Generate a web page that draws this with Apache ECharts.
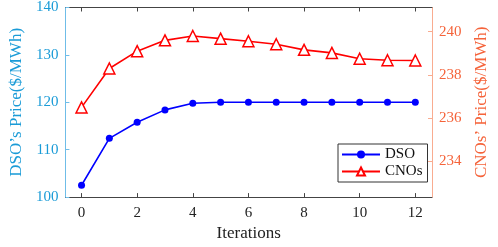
<!DOCTYPE html>
<html>
<head>
<meta charset="utf-8">
<script src="https://cdn.jsdelivr.net/npm/echarts@6/dist/echarts.min.js"></script>
<style>
html, body { margin: 0; padding: 0; background: #fff; }
#chart1 { width: 498px; height: 247px; }
</style>
</head>
<body>
<div id="chart1"></div>
<script>
var iterations = [0, 1, 2, 3, 4, 5, 6, 7, 8, 9, 10, 11, 12];
var dsoPrice = [102.5, 112.4, 115.8, 118.4, 119.8, 120, 120, 120, 120, 120, 120, 120, 120];
var cnoPrice = [236.5, 238.3, 239.1, 239.6, 239.8, 239.68, 239.56, 239.42, 239.16, 239.02, 238.75, 238.68, 238.67];
var xTicks = [0, 2, 4, 6, 8, 10, 12];
var rightTicks = [234, 236, 238, 240];

var font = 'Liberation Serif';
var leftColor = '#1a9bd7';
var rightColor = '#f5633a';

var dom = document.getElementById('chart1');
var myChart = echarts.init(dom);

function pairs(ys) {
    return iterations.map(function (x, i) { return [x, ys[i]]; });
}

myChart.setOption({
    animation: false,
    grid: { left: 52, right: 56, top: 6, bottom: 44 },
    legend: {
        orient: 'vertical',
        left: 338,
        top: 144,
        itemWidth: 38,
        itemHeight: 10,
        itemGap: 2,
        padding: [3, 5, 3, 3],
        borderColor: '#333',
        borderWidth: 1,
        backgroundColor: '#fff',
        textStyle: { fontFamily: font, fontSize: 15, color: '#111' },
        data: ['DSO', 'CNOs']
    },
    xAxis: [{
        type: 'value',
        min: -0.58,
        max: 12.6,
        name: 'Iterations',
        nameLocation: 'middle',
        nameGap: 26,
        nameTextStyle: { fontFamily: font, fontSize: 17, color: '#222' },
        axisLine: { onZero: false, lineStyle: { color: '#444', width: 1 } },
        axisTick: { inside: true, length: 4, customValues: xTicks, lineStyle: { color: '#444' } },
        axisLabel: { fontFamily: font, fontSize: 15, color: '#222', margin: 8, customValues: xTicks },
        splitLine: { show: false }
    }, {
        type: 'value',
        position: 'top',
        min: -0.58,
        max: 12.6,
        axisLine: { show: true, onZero: false, lineStyle: { color: '#444', width: 1 } },
        axisTick: { inside: true, length: 4, customValues: xTicks, lineStyle: { color: '#444' } },
        axisLabel: { show: false },
        splitLine: { show: false }
    }],
    yAxis: [{
        type: 'value',
        min: 100,
        max: 140,
        interval: 10,
        position: 'left',
        name: "DSO\u2019s Price($/MWh)",
        nameLocation: 'middle',
        nameGap: 38,
        nameTextStyle: { fontFamily: font, fontSize: 17, color: leftColor },
        axisLine: { show: true, onZero: false, lineStyle: { color: '#6fbde8', width: 1 } },
        axisTick: { inside: true, length: 4, lineStyle: { color: '#6fbde8' } },
        axisLabel: { fontFamily: font, fontSize: 15, color: leftColor, margin: 7 },
        splitLine: { show: false }
    }, {
        type: 'value',
        min: 232.35,
        max: 241.12,
        position: 'right',
        name: "CNOs\u2019 Price($/MWh)",
        nameLocation: 'middle',
        nameGap: 41,
        nameRotate: 90,
        nameTextStyle: { fontFamily: font, fontSize: 17, color: rightColor },
        axisLine: { show: true, onZero: false, lineStyle: { color: '#f9ac90', width: 1 } },
        axisTick: { inside: true, length: 4, customValues: rightTicks, lineStyle: { color: '#f9ac90' } },
        axisLabel: { fontFamily: font, fontSize: 15, color: rightColor, margin: 7, customValues: rightTicks },
        splitLine: { show: false }
    }],
    series: [{
        name: 'DSO',
        type: 'line',
        yAxisIndex: 0,
        data: pairs(dsoPrice),
        symbol: 'circle',
        symbolSize: 7,
        lineStyle: { color: '#0000ff', width: 1.6 },
        itemStyle: { color: '#0000ff' }
    }, {
        name: 'CNOs',
        type: 'line',
        yAxisIndex: 1,
        data: pairs(cnoPrice),
        symbol: 'triangle',
        symbolSize: 11,
        lineStyle: { color: '#ff0000', width: 1.6 },
        itemStyle: { color: '#fff', borderColor: '#ff0000', borderWidth: 1.5 }
    }]
});
</script>
</body>
</html>
